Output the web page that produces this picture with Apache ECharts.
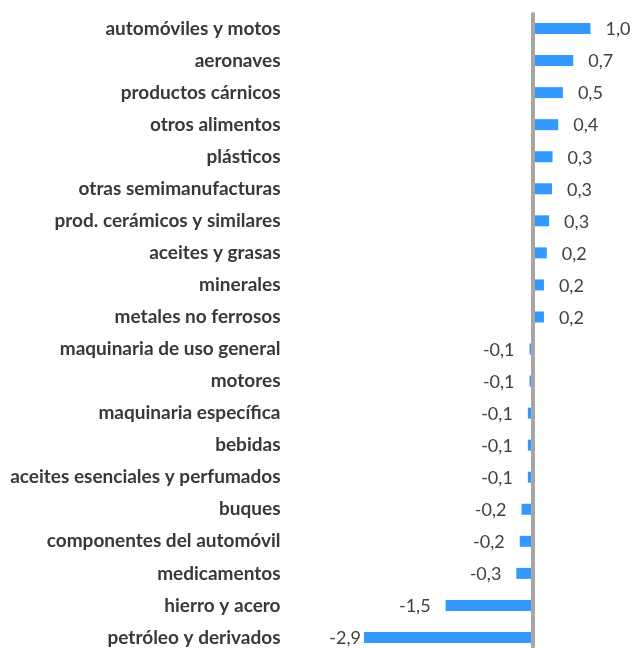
<!DOCTYPE html>
<html>
<head>
<meta charset="utf-8">
<script src="https://cdn.jsdelivr.net/npm/echarts@6/dist/echarts.min.js"></script>
<style>
  html, body { margin: 0; padding: 0; background: #fff; overflow: hidden; }
  /* the last row runs off the bottom edge in the original, so the canvas is a bit taller */
  #chart { width: 635px; height: 660px; }
</style>
</head>
<body>
<div id="chart"></div>
<script>
// productos, de arriba a abajo
var categories = [
  'automóviles y motos', 'aeronaves', 'productos cárnicos', 'otros alimentos',
  'plásticos', 'otras semimanufacturas', 'prod. cerámicos y similares',
  'aceites y grasas', 'minerales', 'metales no ferrosos',
  'maquinaria de uso general', 'motores', 'maquinaria específica', 'bebidas',
  'aceites esenciales y perfumados', 'buques', 'componentes del automóvil',
  'medicamentos', 'hierro y acero', 'petróleo y derivados'
];
// contribución (puntos)
var values = [
  1.00, 0.70, 0.52, 0.44,
  0.34, 0.33, 0.28,
  0.24, 0.19, 0.19,
  -0.06, -0.06, -0.09, -0.09,
  -0.09, -0.20, -0.23,
  -0.29, -1.52, -2.94
];

var chart = echarts.init(document.getElementById('chart'));

var barData = values.map(function (v) {
  var lbl = { position: v < 0 ? 'left' : 'right' };
  if (v < -2.5) lbl.distance = 3; // la barra más larga deja poco sitio
  return { value: v, label: lbl };
});

chart.setOption({
  animation: false,
  grid: { left: 360.5, right: 10, top: 12.5, height: 641, containLabel: false },
  xAxis: {
    type: 'value',
    min: -3,
    max: 1.6,
    show: false
  },
  yAxis: {
    type: 'category',
    data: categories,
    inverse: true,
    axisLine: { show: false },
    axisTick: { show: false },
    splitLine: { show: false },
    axisLabel: {
      margin: 80,
      color: '#383838',
      fontFamily: 'Lato',
      fontWeight: 'bold',
      fontSize: 19
    }
  },
  series: [{
    type: 'bar',
    data: barData,
    barWidth: 11,
    itemStyle: { color: '#3399FF' },
    label: {
      show: true,
      distance: 15,
      color: '#404040',
      fontFamily: 'Lato',
      fontSize: 18,
      offset: [0, 1],
      formatter: function (p) {
        return p.value.toFixed(1).replace('.', ',');
      }
    },
    markLine: {
      silent: true,
      symbol: 'none',
      label: { show: false },
      lineStyle: { color: '#A6A6A6', width: 4, type: 'solid' },
      data: [{ xAxis: 0 }]
    }
  }]
});
</script>
</body>
</html>
